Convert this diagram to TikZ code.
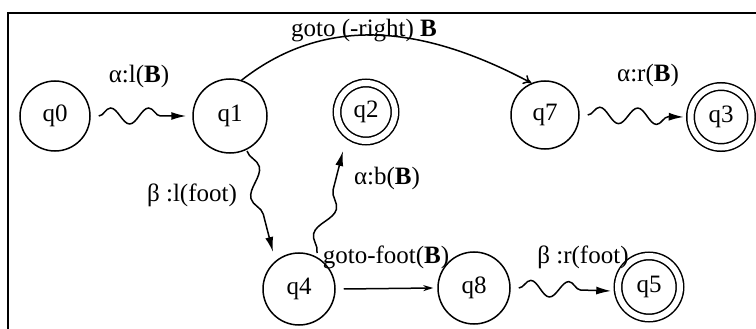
\documentclass[tikz,border=0pt]{standalone}
\usepackage{fontspec}
\setmainfont{Liberation Serif}
\usetikzlibrary{decorations.pathmorphing,arrows.meta}
\begin{document}
\begin{tikzpicture}[x=1pt,y=-1pt,
 state/.style={circle,draw,line width=1.5pt,minimum size=70pt,inner sep=0pt,font=\fontsize{25}{28}\selectfont},
 acc/.style={state,double,double distance=6pt,minimum size=58pt},
 lbl/.style={font=\fontsize{25}{28}\selectfont,inner sep=0pt},
 wavy/.style={line width=1.5pt,decorate,decoration={snake,amplitude=8pt,segment length=38pt,post length=12pt},-{Latex[length=15pt,width=8pt]}},
 vwavy/.style={wavy,decoration={snake,amplitude=8pt,segment length=58pt,post length=12pt}},
 plain/.style={line width=1.5pt},
]
\useasboundingbox (0,0) rectangle (756,329);
\draw[plain] (8,329) -- (8,13) -- (756,13);

\node[state] (q0) at (55,116) {q0};
\node[state,minimum size=74pt] (q1) at (230,116) {q1};
\node[acc] (q2) at (366,112) {q2};
\node[state,minimum size=68pt] (q7) at (545,115) {q7};
\node[acc,minimum size=61pt] (q3) at (721,117) {q3};
\node[state,minimum size=72pt] (q4) at (299,289) {q4};
\node[state,minimum size=72pt] (q8) at (474,288) {q8};
\node[acc,minimum size=62pt] (q5) at (649,287) {q5};

\node[lbl] at (139,76) {α:l(\textbf{B})};
\node[lbl] at (364,31) {goto (-right) \textbf{B}};
\node[lbl] at (648,75) {α:r(\textbf{B})};
\node[lbl] at (192,195) {β :l(foot)};
\node[lbl] at (387,178) {α:b(\textbf{B})};
\node[lbl] at (386,257) {goto-foot(\textbf{B})};
\node[lbl] at (583,257) {β :r(foot)};

\coordinate (a0) at ([xshift=8pt]q0.east);
\coordinate (a1) at ([xshift=-6pt]q1.west);
\draw[wavy] (a0) -- (a1);

\coordinate (b0) at ([xshift=8pt]q7.east);
\coordinate (b1) at ([xshift=-6pt]q3.west);
\draw[wavy] (b0) -- (b1);

\coordinate (c0) at ([xshift=8pt]q8.east);
\coordinate (c1) at ([xshift=-6pt,yshift=-4pt]q5.west);
\draw[wavy] (c0) -- (c1);

\coordinate (d0) at (247,151);
\coordinate (d1) at (273,252);
\draw[vwavy] (d0) -- (d1);

\coordinate (e0) at (317,253);
\coordinate (e1) at (343,151);
\draw[vwavy] (e0) -- (e1);

\coordinate (f0) at ([xshift=8pt]q4.east);
\coordinate (f1) at ([xshift=-4pt]q8.west);
\draw[plain,-{Stealth[length=10pt,width=6pt]}] (f0) -- (f1);

\draw[plain,-{To[length=8pt,width=10pt]}] (q1.72) to[out=38,in=152] (q7.113);
\end{tikzpicture}
\end{document}
